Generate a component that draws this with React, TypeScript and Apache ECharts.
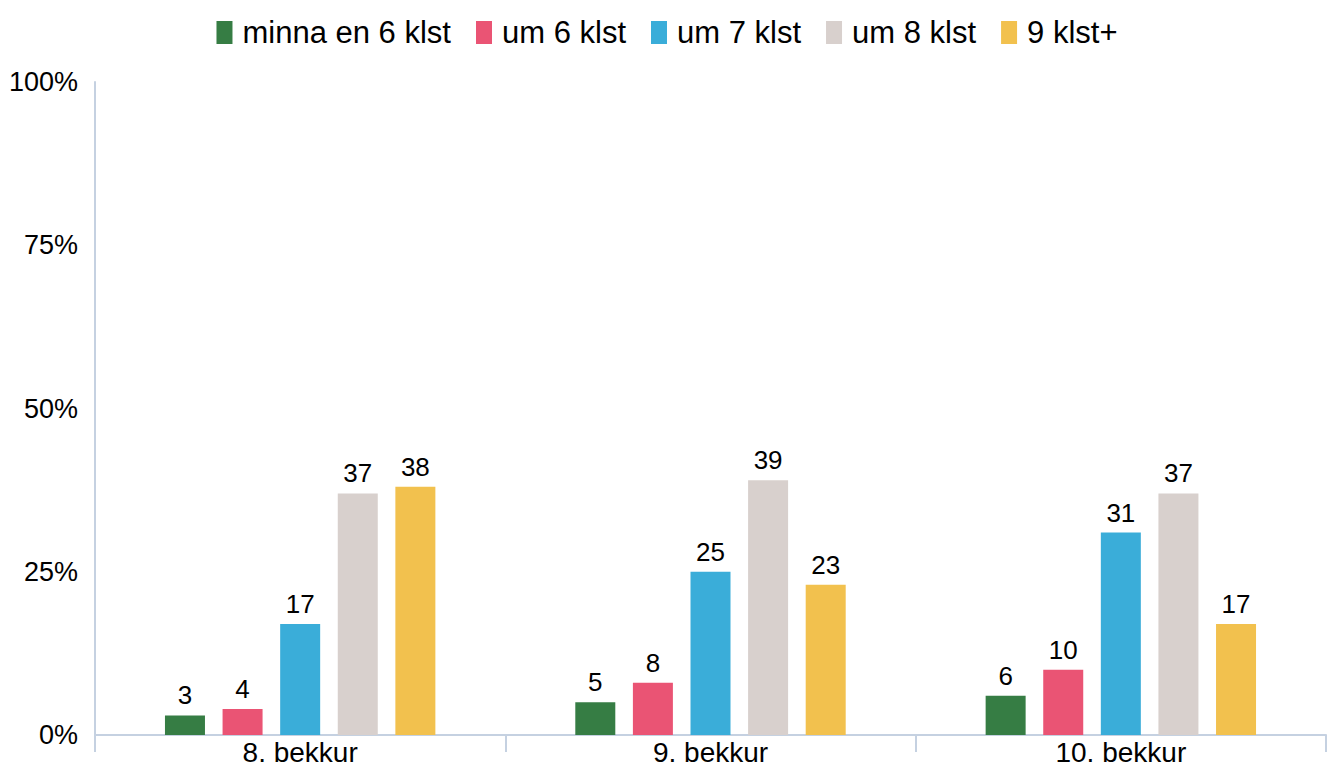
import React, { useEffect, useRef } from "react";
import * as echarts from "echarts";

const categories = ["8. bekkur", "9. bekkur", "10. bekkur"];
const seriesNames = ["minna en 6 klst", "um 6 klst", "um 7 klst", "um 8 klst", "9 klst+"];
const lessThan6 = [3, 5, 6];
const about6 = [4, 8, 10];
const about7 = [17, 25, 31];
const about8 = [37, 39, 37];
const ninePlus = [38, 23, 17];
const yTicks = [0, 25, 50, 75, 100];
const colors = ["#367D44", "#EA5474", "#3AADD9", "#D8D0CD", "#F2C14E"];

const FONT = "'Liberation Sans', Arial, sans-serif";

export default function App() {
  const ref = useRef<HTMLDivElement>(null);
  useEffect(() => {
    document.body.style.margin = "0";
    if (!ref.current) return;
    const chart = echarts.init(ref.current, null, { renderer: "svg" });
    const values = [lessThan6, about6, about7, about8, ninePlus];
    chart.setOption({
      animation: false,
      textStyle: { fontFamily: FONT },
      legend: {
        top: 12,
        left: "center",
        itemWidth: 16,
        itemHeight: 23,
        itemGap: 25,
        icon: "rect",
        textStyle: { fontSize: 31, color: "#000", fontFamily: FONT, padding: [0, 0, 0, 5] },
        data: seriesNames,
      },
      grid: { left: 95, right: 8, top: 82, bottom: 32, containLabel: false },
      xAxis: {
        type: "category",
        data: categories,
        axisLine: { show: true, lineStyle: { color: "#C5D1E1", width: 2 } },
        axisTick: { show: true, length: 17, lineStyle: { color: "#C5D1E1", width: 2 } },
        axisLabel: { fontSize: 28, lineHeight: 28, color: "#000", margin: 3, fontFamily: FONT },
      },
      yAxis: {
        type: "value",
        min: 0,
        max: 100,
        interval: 25,
        axisLine: { show: true, lineStyle: { color: "#C5D1E1", width: 2 } },
        axisTick: { show: false },
        splitLine: { show: false },
        axisLabel: {
          fontSize: 27,
          color: "#000",
          margin: 17,
          fontFamily: FONT,
          formatter: (v: number) => (yTicks.includes(v) ? v + "%" : ""),
        },
      },
      series: seriesNames.map((name, i) => ({
        name,
        type: "bar",
        data: values[i],
        barWidth: 40,
        barGap: "44%",
        itemStyle: { color: colors[i] },
        label: {
          show: true,
          position: "top",
          distance: 7,
          fontSize: 26,
          color: "#000",
          fontFamily: FONT,
        },
      })),
    });
    return () => chart.dispose();
  }, []);
  return <div ref={ref} style={{ width: 1334, height: 767 }} />;
}
